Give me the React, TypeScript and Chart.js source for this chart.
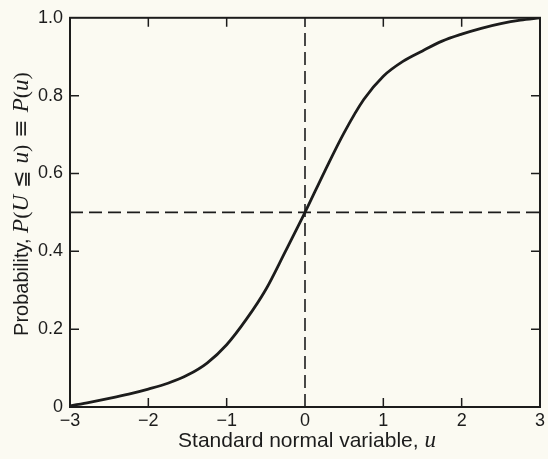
import React, { useEffect, useRef } from 'react';
import { Chart, registerables } from 'chart.js';

Chart.register(...registerables);

// Curve
const uValues = [-3, -2.75, -2.5, -2.25, -2, -1.75, -1.5, -1.25, -1, -0.75, -0.5, -0.25, 0, 0.25, 0.5, 0.75, 1, 1.25, 1.5, 1.75, 2, 2.25, 2.5, 2.75, 3];
const probValues = [0.003, 0.012, 0.022, 0.033, 0.046, 0.061, 0.082, 0.113, 0.16, 0.225, 0.302, 0.4, 0.5, 0.605, 0.705, 0.79, 0.85, 0.888, 0.915, 0.94, 0.958, 0.973, 0.985, 0.994, 1.0];

const xTicks = [-3, -2, -1, 0, 1, 2, 3];
const xTickLabels = ['\u22123', '\u22122', '\u22121', '0', '1', '2', '3'];
const yTicks = [0, 0.2, 0.4, 0.6, 0.8, 1.0];
const yTickLabels = ['0', '0.2', '0.4', '0.6', '0.8', '1.0'];

const medianU = 0;
const medianP = 0.5;

const INK = '#1c1c1c';
const BG = '#fbfaf2';
const SANS = '"Liberation Sans", Arial, sans-serif';
const SERIF = '"Liberation Serif", "DejaVu Serif", serif';

type Seg = { t: string; f: string };

const xTitle: Seg[] = [
  { t: 'Standard normal variable, ', f: `21px ${SANS}` },
  { t: 'u', f: `italic 23px ${SERIF}` },
];
const yTitle: Seg[] = [
  { t: 'Probability, ', f: `20px ${SANS}` },
  { t: 'P', f: `italic 23px ${SERIF}` },
  { t: '(', f: `22px ${SERIF}` },
  { t: 'U', f: `italic 23px ${SERIF}` },
  { t: ' \u2266 ', f: `21px "DejaVu Serif", serif` },
  { t: 'u', f: `italic 23px ${SERIF}` },
  { t: ')', f: `22px ${SERIF}` },
  { t: ' \u2261 ', f: `22px "DejaVu Serif", serif` },
  { t: 'P', f: `italic 23px ${SERIF}` },
  { t: '(', f: `22px ${SERIF}` },
  { t: 'u', f: `italic 23px ${SERIF}` },
  { t: ')', f: `22px ${SERIF}` },
];

function drawSegs(ctx: CanvasRenderingContext2D, segs: Seg[], cx: number, cy: number) {
  let total = 0;
  for (const s of segs) {
    ctx.font = s.f;
    total += ctx.measureText(s.t).width;
  }
  let x = cx - total / 2;
  ctx.textBaseline = 'alphabetic';
  ctx.textAlign = 'left';
  for (const s of segs) {
    ctx.font = s.f;
    ctx.fillText(s.t, x, cy);
    x += ctx.measureText(s.t).width;
  }
}

const framePlugin = {
  id: 'frameTicks',
  beforeDraw(chart: any) {
    const { ctx, width, height } = chart;
    ctx.save();
    ctx.fillStyle = BG;
    ctx.fillRect(0, 0, width, height);
    ctx.restore();
  },
  afterDatasetsDraw(chart: any) {
    const { ctx, chartArea, scales } = chart;
    const { left, right, top, bottom } = chartArea;
    const x = scales.x;
    const y = scales.y;
    ctx.save();
    ctx.strokeStyle = INK;
    ctx.lineWidth = 2;
    ctx.strokeRect(left, top, right - left, bottom - top);
    ctx.lineWidth = 1.5;
    const L = 9;
    ctx.beginPath();
    xTicks.slice(1, -1).forEach((v) => {
      if (v === medianU) return;
      const px = x.getPixelForValue(v);
      ctx.moveTo(px, bottom);
      ctx.lineTo(px, bottom - L);
      ctx.moveTo(px, top);
      ctx.lineTo(px, top + L);
    });
    yTicks.slice(1, -1).forEach((v) => {
      const py = y.getPixelForValue(v);
      ctx.moveTo(left, py);
      ctx.lineTo(left + L, py);
      ctx.moveTo(right, py);
      ctx.lineTo(right - L, py);
    });
    ctx.stroke();

    ctx.fillStyle = INK;
    drawSegs(ctx, xTitle, (left + right) / 2 + 2, 447);
    ctx.save();
    ctx.translate(28, 204);
    ctx.rotate(-Math.PI / 2);
    drawSegs(ctx, yTitle, 0, 0);
    ctx.restore();
    ctx.restore();
  },
};

export default function App() {
  const ref = useRef<HTMLCanvasElement | null>(null);

  useEffect(() => {
    if (!ref.current) return;
    const chart = new Chart(ref.current, {
      type: 'scatter',
      data: {
        datasets: [
          {
            label: 'median u',
            data: [
              { x: medianU, y: 0 },
              { x: medianU, y: 1 },
            ],
            showLine: true,
            borderColor: INK,
            borderWidth: 1.6,
            borderDash: [13, 6],
            pointRadius: 0,
          },
          {
            label: 'P = 0.5',
            data: [
              { x: xTicks[0], y: medianP },
              { x: xTicks[xTicks.length - 1], y: medianP },
            ],
            showLine: true,
            borderColor: INK,
            borderWidth: 1.6,
            borderDash: [13, 6],
            pointRadius: 0,
          },
          {
            label: 'P(u)',
            data: uValues.map((u, i) => ({ x: u, y: probValues[i] })),
            showLine: true,
            borderColor: INK,
            borderWidth: 2.8,
            pointRadius: 0,
            cubicInterpolationMode: 'monotone',
          },
        ],
      },
      options: {
        animation: false,
        responsive: true,
        maintainAspectRatio: false,
        layout: { padding: { top: 16, right: 7, left: 0, bottom: 0 } },
        plugins: {
          legend: { display: false },
          tooltip: { enabled: false },
        },
        scales: {
          x: {
            type: 'linear',
            min: -3,
            max: 3,
            afterBuildTicks: (s: any) => {
              s.ticks = xTicks.map((v) => ({ value: v }));
            },
            afterFit: (s: any) => {
              s.height = 52;
            },
            grid: { display: false, drawTicks: false },
            border: { display: false },
            ticks: {
              padding: 3,
              color: INK,
              font: { family: SANS, size: 18 },
              callback: (v: any) => {
                const i = xTicks.indexOf(Number(v));
                return i >= 0 ? xTickLabels[i] : '';
              },
            },
          },
          y: {
            type: 'linear',
            min: 0,
            max: 1,
            afterBuildTicks: (s: any) => {
              s.ticks = yTicks.map((v) => ({ value: v }));
            },
            afterFit: (s: any) => {
              s.width = 70;
            },
            grid: { display: false, drawTicks: false },
            border: { display: false },
            ticks: {
              padding: 7,
              color: INK,
              font: { family: SANS, size: 18 },
              callback: (v: any) => {
                const i = yTicks.findIndex((t) => Math.abs(t - Number(v)) < 1e-6);
                return i >= 0 ? yTickLabels[i] : '';
              },
            },
          },
        },
      },
      plugins: [framePlugin],
    } as any);
    return () => chart.destroy();
  }, []);

  return (
    <div style={{ position: 'fixed', left: 0, top: 0, width: 548, height: 459, background: BG }}>
      <canvas ref={ref} />
    </div>
  );
}
